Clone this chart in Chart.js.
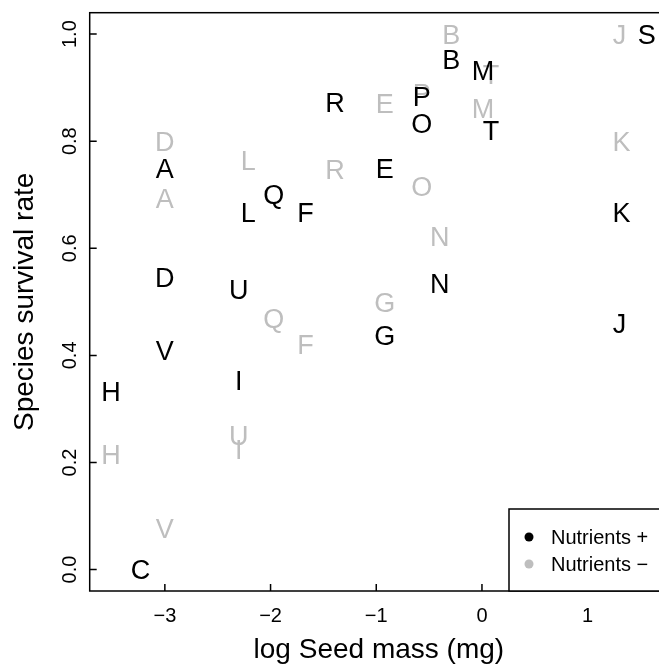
<!DOCTYPE html>
<html>
<head>
<meta charset="utf-8">
<script src="https://cdn.jsdelivr.net/npm/chart.js@4/dist/chart.umd.min.js"></script>
<style>
  html, body { margin: 0; padding: 0; overflow: hidden; background: #fff; width: 659px; height: 664px; }
  canvas { display: block; }
</style>
</head>
<body>
<canvas id="c" width="690" height="664"></canvas>
<script>
// Species codes and their log seed mass (mg)
const species = ['A','B','C','D','E','F','G','H','I','J','K','L','M','N','O','P','Q','R','S','T','U','V'];
const logSeedMass = [-3.0, -0.29, -3.23, -3.0, -0.92, -1.67, -0.92, -3.51, -2.30, 1.30, 1.32, -2.21, 0.01, -0.40, -0.57, -0.57, -1.97, -1.39, 1.56, 0.085, -2.30, -3.0];
// Survival rate with nutrients added
const survivalPlus = [0.75, 0.952, 0.0, 0.545, 0.75, 0.667, 0.438, 0.333, 0.353, 0.46, 0.667, 0.667, 0.933, 0.535, 0.834, 0.883, 0.70, 0.872, 1.0, 0.821, 0.523, 0.41];
// Survival rate without nutrients
const survivalMinus = [0.693, 1.0, 0.0, 0.80, 0.871, 0.42, 0.50, 0.215, 0.224, 1.0, 0.80, 0.765, 0.862, 0.623, 0.715, 0.89, 0.469, 0.748, 1.0, 0.924, 0.251, 0.077];

const xTicks = [-3, -2, -1, 0, 1];
const yTicks = [0.0, 0.2, 0.4, 0.6, 0.8, 1.0];
const seriesNames = ['Nutrients +', 'Nutrients \u2212'];
const xTitle = 'log Seed mass (mg)';
const yTitle = 'Species survival rate';

const FONT = '"Liberation Sans", Arial, Helvetica, sans-serif';
const BLACK = '#000000';
const GREY = '#bebebe';

function points(ys) {
  return logSeedMass.map((x, i) => ({ x: x, y: ys[i] }));
}

// Draws each species code as its plotting symbol, centred on the point
const letterMarks = {
  id: 'letterMarks',
  afterDatasetsDraw(chart) {
    const ctx = chart.ctx;
    const size = 27;
    ctx.save();
    ctx.font = size + 'px ' + FONT;
    ctx.textAlign = 'center';
    ctx.textBaseline = 'alphabetic';
    chart.data.datasets.forEach((ds, di) => {
      const meta = chart.getDatasetMeta(di);
      ctx.fillStyle = ds.textColor;
      meta.data.forEach((el, i) => {
        ctx.fillText(species[i], el.x, el.y + size * 0.716 / 2);
      });
    });
    ctx.restore();
  }
};

// Box, inward ticks, tick labels, axis titles and legend
const frame = {
  id: 'frame',
  afterDraw(chart) {
    const ctx = chart.ctx;
    const a = chart.chartArea;
    const xs = chart.scales.x, ys = chart.scales.y;
    const tick = 7;
    ctx.save();
    ctx.strokeStyle = '#000';
    ctx.lineWidth = 1.5;
    ctx.strokeRect(a.left, a.top, a.right - a.left, a.bottom - a.top);

    ctx.beginPath();
    xTicks.forEach(v => {
      const px = xs.getPixelForValue(v);
      ctx.moveTo(px, a.bottom);
      ctx.lineTo(px, a.bottom - tick);
    });
    yTicks.forEach(v => {
      const py = ys.getPixelForValue(v);
      ctx.moveTo(a.left, py);
      ctx.lineTo(a.left + tick, py);
    });
    ctx.stroke();

    ctx.fillStyle = '#000';
    ctx.font = '20px ' + FONT;
    ctx.textAlign = 'center';
    ctx.textBaseline = 'alphabetic';
    xTicks.forEach(v => {
      const px = xs.getPixelForValue(v);
      ctx.fillText(String(v).replace('-', '\u2212'), px, 622);
    });
    yTicks.forEach(v => {
      const py = ys.getPixelForValue(v);
      ctx.save();
      ctx.translate(76, py);
      ctx.rotate(-Math.PI / 2);
      ctx.fillText(v.toFixed(1), 0, 0);
      ctx.restore();
    });

    ctx.font = '28px ' + FONT;
    ctx.fillText(xTitle, (a.left + a.right) / 2, 658);
    ctx.save();
    ctx.translate(33, (a.top + a.bottom) / 2);
    ctx.rotate(-Math.PI / 2);
    ctx.fillText(yTitle, 0, 0);
    ctx.restore();

    // legend in the bottom-right corner of the plot
    const lx = 509, ly = 509;
    ctx.fillStyle = '#fff';
    ctx.fillRect(lx, ly, a.right - lx, a.bottom - ly);
    ctx.strokeRect(lx, ly, a.right - lx, a.bottom - ly);
    const rows = [537, 564];
    const cols = [BLACK, GREY];
    ctx.font = '20px ' + FONT;
    ctx.textAlign = 'left';
    rows.forEach((ry, i) => {
      ctx.fillStyle = cols[i];
      ctx.beginPath();
      ctx.arc(529, ry, 4.5, 0, Math.PI * 2);
      ctx.fill();
      ctx.fillStyle = '#000';
      ctx.fillText(seriesNames[i], 551, ry + 20 * 0.716 / 2);
    });
    ctx.restore();
  }
};

new Chart(document.getElementById('c'), {
  type: 'scatter',
  data: {
    datasets: [
      { label: seriesNames[1], data: points(survivalMinus), textColor: GREY, pointRadius: 0, pointHoverRadius: 0 },
      { label: seriesNames[0], data: points(survivalPlus), textColor: BLACK, pointRadius: 0, pointHoverRadius: 0 }
    ]
  },
  options: {
    responsive: false,
    animation: false,
    devicePixelRatio: 1,
    layout: { padding: { left: 89.7, right: 22, top: 12.7, bottom: 73 } },
    plugins: { legend: { display: false }, tooltip: { enabled: false } },
    scales: {
      x: { type: 'linear', min: -3.711, max: 1.76, display: false },
      y: { type: 'linear', min: -0.04, max: 1.04, display: false }
    }
  },
  plugins: [letterMarks, frame]
});
</script>
</body>
</html>
